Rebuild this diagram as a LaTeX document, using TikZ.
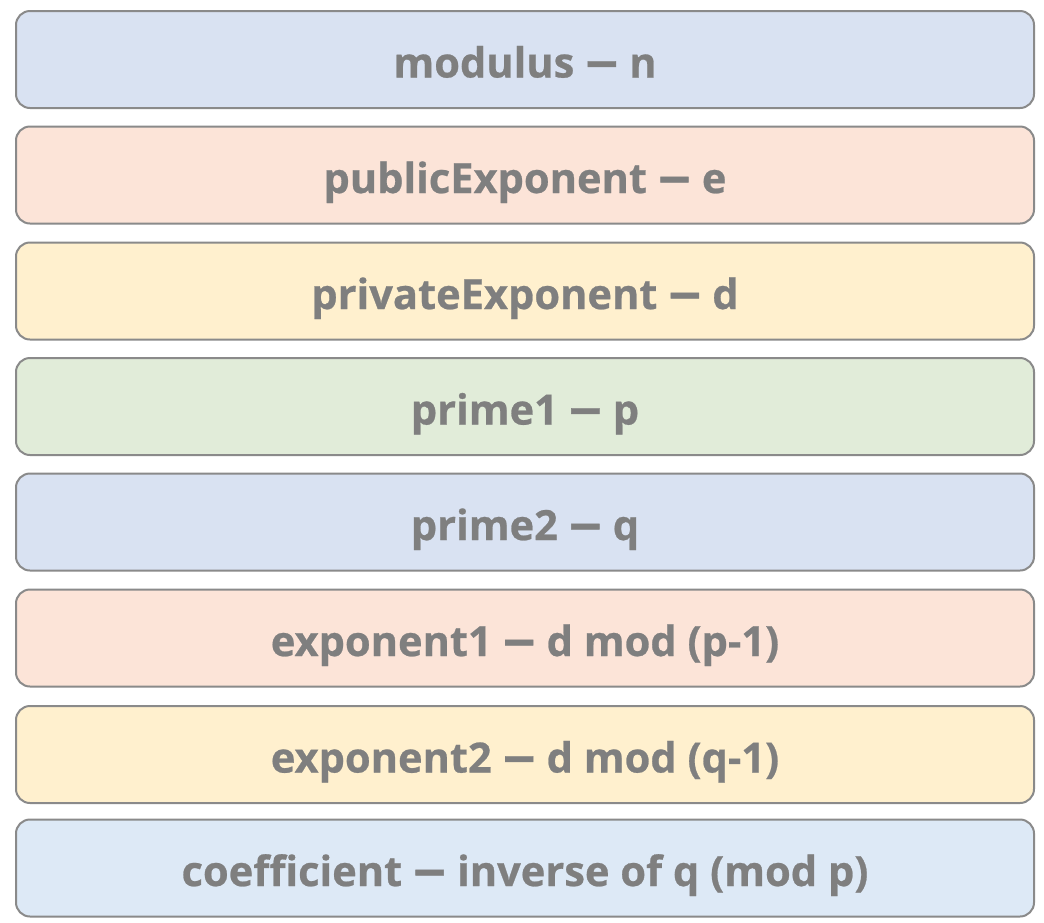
\documentclass[tikz,border=0pt]{standalone}
\usepackage{fontspec}
\usepackage{graphicx}
\setmainfont{Open Sans}[BoldFeatures={FakeBold=0.6}]
\definecolor{txtgray}{HTML}{7F7F7F}
\definecolor{bordergray}{HTML}{8A8A8A}
\definecolor{cblue}{HTML}{D9E2F2}
\definecolor{cpeach}{HTML}{FCE4D8}
\definecolor{cyellow}{HTML}{FFF0CE}
\definecolor{cgreen}{HTML}{E1ECD9}
\definecolor{clblue}{HTML}{DDE9F6}
\newcommand\fdash{\scalebox{1.6}[1.2]{–}}
\tikzset{
  fieldbox/.style={draw=bordergray, line width=2pt, rounded corners=14pt,
    minimum width=1018pt, minimum height=97pt, inner sep=0pt,
    text height=36pt, text depth=0pt,
    font=\fontsize{41.6}{48}\selectfont\bfseries, text=txtgray},
}
\begin{document}
\begin{tikzpicture}[x=1pt,y=-1pt]
\useasboundingbox[fill=white] (0,0) rectangle (1044,922);
\node[fieldbox, fill=cblue]   (n1) at (525,59.5)  {modulus \fdash{} n};
\node[fieldbox, fill=cpeach]  (n2) at (525,175)   {publicExponent \fdash{} e};
\node[fieldbox, fill=cyellow] (n3) at (525,291)   {privateExponent \fdash{} d};
\node[fieldbox, fill=cgreen]  (n4) at (525,406.5) {prime1 \fdash{} p};
\node[fieldbox, fill=cblue]   (n5) at (525,522)   {prime2 \fdash{} q};
\node[fieldbox, fill=cpeach]  (n6) at (525,638)   {exponent1 \fdash{} d mod (p-1)};
\node[fieldbox, fill=cyellow] (n7) at (525,754.5) {exponent2 \fdash{} d mod (q-1)};
\node[fieldbox, fill=clblue]  (n8) at (525,868)   {coefficient \fdash{} inverse of q (mod p)};
\end{tikzpicture}
\end{document}
